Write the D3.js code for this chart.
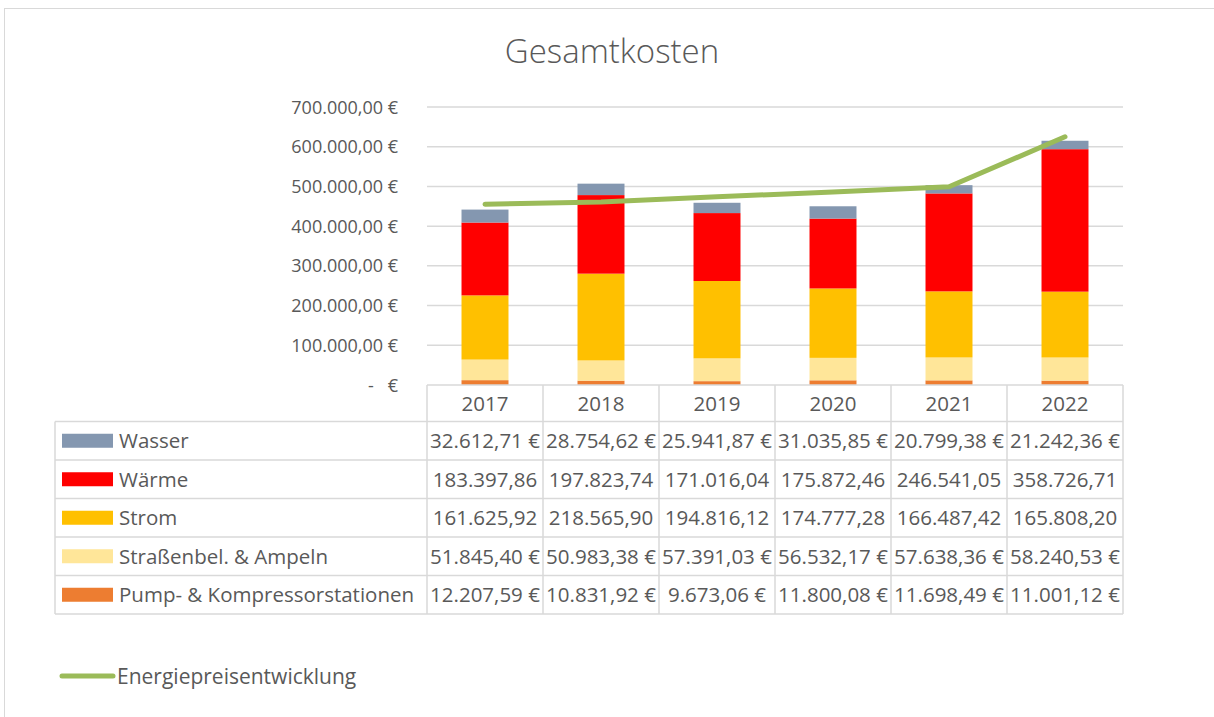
<!DOCTYPE html>
<html>
<head>
<meta charset="utf-8">
<script src="https://cdn.jsdelivr.net/npm/d3@7"></script>
<style>
  body { margin: 0; background: #fff; }
  text { font-family: "Open Sans", "Noto Sans", sans-serif; fill: #595959; }
</style>
</head>
<body>
<svg id="chart" width="1214" height="717"></svg>
<script>
var years = ["2017", "2018", "2019", "2020", "2021", "2022"];
var seriesNames = ["Wasser", "Wärme", "Strom", "Straßenbel. & Ampeln", "Pump- & Kompressorstationen"];
var wasser = [32612.71, 28754.62, 25941.87, 31035.85, 20799.38, 21242.36];
var waerme = [183397.86, 197823.74, 171016.04, 175872.46, 246541.05, 358726.71];
var strom = [161625.92, 218565.90, 194816.12, 174777.28, 166487.42, 165808.20];
var strassen = [51845.40, 50983.38, 57391.03, 56532.17, 57638.36, 58240.53];
var pump = [12207.59, 10831.92, 9673.06, 11800.08, 11698.49, 11001.12];
var energiepreis = [455000, 461000, 474000, 486000, 499000, 625000];
var yTicks = [0, 100000, 200000, 300000, 400000, 500000, 600000, 700000];
// rows where Excel cut off the euro sign in the table
var noEuro = ["Wärme", "Strom"];

var seriesValues = [wasser, waerme, strom, strassen, pump];
var colors = d3.scaleOrdinal()
    .domain(seriesNames)
    .range(["#8497b0", "#ff0000", "#ffc000", "#ffe699", "#ed7d31"]);

var svg = d3.select("#chart"),
    plotLeft = 427, plotRight = 1123, plotTop = 107, plotBottom = 385;

var de = d3.formatLocale({decimal: ",", thousands: ".", grouping: [3], currency: ["", " €"]});
var money = de.format("$,.2f"),
    plain = de.format(",.2f");

var x = d3.scaleBand().domain(years).range([plotLeft, plotRight]);
var y = d3.scaleLinear().domain([0, 700000]).range([plotBottom, plotTop]);

// outer chart border
svg.append("rect")
    .attr("x", 4.5).attr("y", 8.5)
    .attr("width", 1220).attr("height", 720)
    .attr("fill", "none").attr("stroke", "#d9d9d9");

svg.append("text")
    .attr("x", 612).attr("y", 63)
    .attr("text-anchor", "middle")
    .style("font-size", "33px")
    .style("font-weight", 300)
    .text("Gesamtkosten");

// gridlines + y labels
svg.append("g").selectAll("line")
    .data(yTicks.slice(1))
    .enter().append("line")
    .attr("x1", plotLeft).attr("x2", plotRight)
    .attr("y1", function(d) { return y(d); })
    .attr("y2", function(d) { return y(d); })
    .attr("stroke", "#d9d9d9").attr("stroke-width", 1.5);

svg.append("g").selectAll("text")
    .data(yTicks)
    .enter().append("text")
    .attr("x", 398)
    .attr("y", function(d) { return y(d) + 6.5; })
    .attr("text-anchor", "end")
    .style("font-size", "18px")
    .style("white-space", "pre")
    .text(function(d) { return d === 0 ? "-   €" : money(d); });

// stacked bars
var rows = years.map(function(yr, i) {
    var r = {year: yr};
    seriesNames.forEach(function(s, j) { r[s] = seriesValues[j][i]; });
    return r;
});
var stack = d3.stack().keys(seriesNames.slice().reverse());
var bw = x.bandwidth() * 0.405;

svg.append("g").selectAll("g")
    .data(stack(rows))
    .enter().append("g")
    .attr("fill", function(d) { return colors(d.key); })
    .selectAll("rect")
    .data(function(d) { return d; })
    .enter().append("rect")
    .attr("x", function(d) { return x(d.data.year) + (x.bandwidth() - bw) / 2; })
    .attr("width", bw)
    .attr("y", function(d) { return y(d[1]); })
    .attr("height", function(d) { return y(d[0]) - y(d[1]); });

// line
var line = d3.line()
    .x(function(d, i) { return x(years[i]) + x.bandwidth() / 2; })
    .y(function(d) { return y(d); });

svg.append("path")
    .datum(energiepreis)
    .attr("d", line)
    .attr("fill", "none")
    .attr("stroke", "#9bbb59")
    .attr("stroke-width", 5)
    .attr("stroke-linecap", "round")
    .attr("stroke-linejoin", "round");

// data table
var headH = 36.5, rowH = 38.5, tableLeft = 55;
var grid = svg.append("g").attr("stroke", "#d9d9d9").attr("stroke-width", 1.5);

grid.append("line").attr("x1", plotLeft).attr("x2", plotRight).attr("y1", plotBottom).attr("y2", plotBottom);
d3.range(seriesNames.length + 1).forEach(function(i) {
    var yy = plotBottom + headH + i * rowH;
    grid.append("line").attr("x1", tableLeft).attr("x2", plotRight).attr("y1", yy).attr("y2", yy);
});
var tableBottom = plotBottom + headH + seriesNames.length * rowH;
grid.append("line").attr("x1", tableLeft).attr("x2", tableLeft)
    .attr("y1", plotBottom + headH).attr("y2", tableBottom);
years.forEach(function(yr) {
    grid.append("line").attr("x1", x(yr)).attr("x2", x(yr)).attr("y1", plotBottom).attr("y2", tableBottom);
});
grid.append("line").attr("x1", plotRight).attr("x2", plotRight).attr("y1", plotBottom).attr("y2", tableBottom);

svg.append("g").selectAll("text")
    .data(years)
    .enter().append("text")
    .attr("x", function(d) { return x(d) + x.bandwidth() / 2; })
    .attr("y", plotBottom + headH / 2 + 8)
    .attr("text-anchor", "middle")
    .style("font-size", "20.5px")
    .text(function(d) { return d; });

seriesNames.forEach(function(s, j) {
    var cy = plotBottom + headH + j * rowH + rowH / 2;
    svg.append("rect")
        .attr("x", 62).attr("y", cy - 7)
        .attr("width", 51).attr("height", 14)
        .attr("fill", colors(s));
    svg.append("text")
        .attr("x", 119).attr("y", cy + 7.5)
        .style("font-size", "20.5px")
        .text(s);
    svg.append("g").selectAll("text")
        .data(seriesValues[j])
        .enter().append("text")
        .attr("x", function(d, i) { return x(years[i]) + x.bandwidth() / 2; })
        .attr("y", cy + 7.5)
        .attr("text-anchor", "middle")
        .style("font-size", "20.5px")
        .text(function(d) { return noEuro.indexOf(s) >= 0 ? plain(d) : money(d); });
});

// legend for the line
svg.append("line")
    .attr("x1", 62).attr("x2", 113)
    .attr("y1", 676).attr("y2", 676)
    .attr("stroke", "#9bbb59").attr("stroke-width", 5)
    .attr("stroke-linecap", "round");
svg.append("text")
    .attr("x", 117).attr("y", 683.5)
    .style("font-size", "21px")
    .text("Energiepreisentwicklung");
</script>
</body>
</html>
